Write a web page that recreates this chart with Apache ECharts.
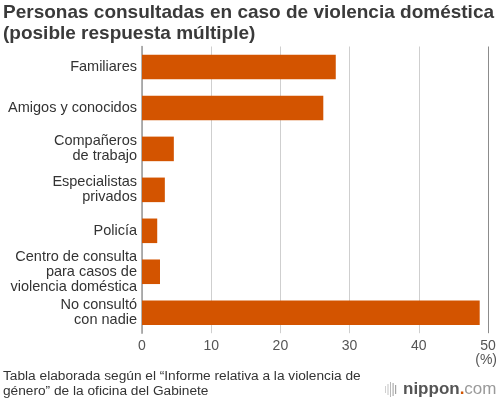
<!DOCTYPE html>
<html>
<head>
<meta charset="utf-8">
<script src="https://cdn.jsdelivr.net/npm/echarts@6/dist/echarts.min.js"></script>
<style>
  html, body { margin: 0; padding: 0; background: #fff; }
  #chart { width: 499px; height: 398px; }
</style>
</head>
<body>
<div id="chart"></div>
<script>
// data
const categories = [
  'Familiares',
  'Amigos y conocidos',
  'Compañeros\nde trabajo',
  'Especialistas\nprivados',
  'Policía',
  'Centro de consulta\npara casos de\nviolencia doméstica',
  'No consultó\ncon nadie'
];
const values = [28.0, 26.2, 4.6, 3.3, 2.2, 2.6, 48.8];
const xTicks = [0, 10, 20, 30, 40, 50];

const FONT = '"Liberation Sans", Arial, sans-serif';
const ORANGE = '#d35400';

const chart = echarts.init(document.getElementById('chart'));

const option = {
  animation: false,
  textStyle: { fontFamily: FONT },
  title: {
    text: 'Personas consultadas en caso de violencia doméstica\n(posible respuesta múltiple)',
    left: 3,
    top: 2,
    padding: 0,
    textStyle: {
      fontFamily: FONT,
      fontSize: 19,
      fontWeight: 'bold',
      color: '#3a3a3a',
      lineHeight: 21
    }
  },
  grid: {
    left: 142,
    right: 11,
    top: 46.5,
    height: 286.7,
    containLabel: false
  },
  xAxis: {
    type: 'value',
    min: xTicks[0],
    max: xTicks[xTicks.length - 1],
    interval: 10,
    axisLine: { show: false },
    axisTick: { show: false },
    axisLabel: {
      color: '#555',
      fontSize: 14,
      margin: 6
    },
    splitLine: {
      show: true,
      lineStyle: {
        color: ['#cfcfcf', '#cfcfcf', '#cfcfcf', '#cfcfcf', '#cfcfcf', '#8c8c8c'],
        width: 1
      }
    }
  },
  yAxis: {
    type: 'category',
    inverse: true,
    data: categories,
    axisLine: { show: true, lineStyle: { color: '#9a9a9a', width: 1.5 } },
    axisTick: { show: false },
    axisLabel: {
      color: '#333',
      fontSize: 14.5,
      lineHeight: 15,
      margin: 5,
      align: 'right'
    }
  },
  series: [
    {
      type: 'bar',
      data: values,
      barCategoryGap: '40%',
      itemStyle: { color: ORANGE },
      z: 3
    }
  ],
  graphic: [
    {
      type: 'text',
      right: 2,
      top: 353,
      style: { text: '(%)', fill: '#555', font: '14px ' + FONT }
    },
    {
      type: 'text',
      left: 3,
      top: 368.5,
      style: {
        text: 'Tabla elaborada según el “Informe relativa a la violencia de\ngénero” de la oficina del Gabinete',
        fill: '#333',
        font: '13.7px ' + FONT,
        lineHeight: 15
      }
    },
    // nippon.com logo
    {
      type: 'group',
      left: 385,
      top: 381,
      children: [
        { type: 'rect', shape: { x: 0, y: 5, width: 1, height: 7 }, style: { fill: '#d0d0d0' } },
        { type: 'rect', shape: { x: 2.5, y: 3, width: 1, height: 11 }, style: { fill: '#c4c4c4' } },
        { type: 'rect', shape: { x: 5, y: 1, width: 1, height: 15 }, style: { fill: '#b8b8b8' } },
        { type: 'rect', shape: { x: 7.5, y: 2, width: 1.2, height: 13 }, style: { fill: '#adadad' } },
        { type: 'rect', shape: { x: 10, y: 4, width: 1.2, height: 9 }, style: { fill: '#a4a4a4' } },
        {
          type: 'text',
          x: 18,
          y: 0,
          style: {
            text: '{a|nippon}{b|.}{c|com}',
            rich: {
              a: { fontFamily: FONT, fontSize: 17, fontWeight: 'bold', fill: '#555' },
              b: { fontFamily: FONT, fontSize: 17, fontWeight: 'bold', fill: ORANGE },
              c: { fontFamily: FONT, fontSize: 17, fill: '#9a9a9a' }
            }
          }
        }
      ]
    }
  ]
};

chart.setOption(option);
</script>
</body>
</html>
